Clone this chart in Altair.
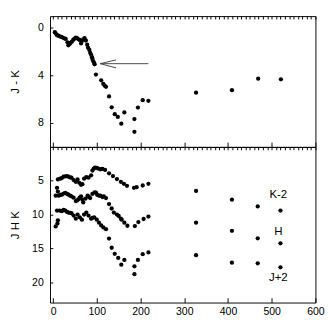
import altair as alt
import pandas as pd

# ---- data ----
jk_x = [4, 6, 9, 12, 15, 19, 22, 26, 29, 33, 35, 38, 40, 43, 46, 49, 52, 55, 58, 61,
        64, 66, 69, 72, 75, 78, 80, 83, 85, 87, 89, 90, 92, 94, 95, 98, 110, 115, 118, 121,
        128, 134, 141, 148, 156, 163, 186, 186, 194, 205, 218, 327, 409, 469, 521]
jk_y = [0.35, 0.45, 0.6, 0.65, 0.7, 0.75, 0.8, 0.88, 0.92, 1.2, 1.45, 1.35, 1.25, 1.15, 1.0, 0.9, 0.8, 0.85, 0.95, 1.0,
        1.3, 1.1, 0.95, 0.85, 1.05, 1.4, 1.65, 1.85, 2.1, 2.25, 2.45, 2.6, 2.8, 2.95, 3.05, 3.92, 4.4, 4.7, 4.85, 4.95,
        5.75, 6.67, 7.25, 7.48, 8.05, 7.1, 7.66, 8.73, 6.69, 6.07, 6.12, 5.44, 5.23, 4.26, 4.31]

k_x = [11, 16, 20, 24, 28, 32, 35, 39, 42, 47, 52, 56, 60, 64, 67, 71, 76, 81, 87, 90,
       93, 96, 100, 103, 108, 113, 119, 128, 137, 146, 155, 162, 169, 185, 191, 205, 218, 327, 409, 468, 520]
k_y = [4.8, 4.7, 4.6, 4.4, 4.35, 4.3, 4.4, 4.5, 4.55, 4.9, 5.15, 4.8, 5.3, 5.6, 5.5, 4.7, 4.45, 4.55, 4.2, 3.5,
       3.2, 3.05, 3.1, 3.2, 3.3, 3.25, 3.4, 3.9, 4.3, 4.75, 5.15, 5.45, 5.75, 6.05, 5.95, 5.7, 5.45, 6.5, 7.8, 8.8, 9.4]

h_x = [6, 9, 11, 13, 17, 20, 24, 28, 32, 35, 39, 42, 47, 52, 55, 58, 61, 64, 67, 69,
       74, 79, 82, 85, 90, 95, 98, 101, 105, 108, 113, 116, 121, 128, 134, 139, 146, 150, 155, 157,
       163, 170, 187, 195, 207, 218, 327, 409, 468, 520]
h_y = [7.2, 6.05, 6.6, 7.2, 7.1, 7.05, 6.9, 6.8, 6.95, 7.05, 7.2, 7.3, 7.5, 8.0, 7.9, 7.75, 7.5, 7.3, 7.8, 8.2,
       7.65, 7.2, 7.4, 7.55, 6.95, 6.7, 6.75, 7.1, 7.2, 7.2, 7.4, 7.3, 7.55, 8.45, 9.1, 9.7, 10.0, 10.2, 10.6, 10.75,
       11.2, 11.65, 11.7, 11.1, 10.65, 10.3, 11.2, 12.4, 13.5, 14.25]

j_x = [6, 9, 10, 11, 15, 20, 24, 28, 32, 35, 39, 42, 47, 52, 56, 61, 66, 71, 76, 81,
       87, 90, 94, 100, 105, 110, 115, 121, 128, 134, 141, 149, 156, 163, 186, 186, 194, 205, 218,
       327, 409, 468, 520]
j_y = [11.75, 9.4, 11.3, 10.85, 9.4, 9.5, 9.3, 9.4, 9.6, 9.7, 9.75, 9.8, 10.15, 10.6, 10.0, 10.4, 10.75, 10.0, 9.7, 10.15,
       10.6, 10.5, 10.4, 10.75, 11.2, 11.6, 11.9, 12.15, 13.55, 14.9, 15.8, 16.4, 17.4, 16.7, 17.65, 18.8, 16.7, 15.85, 15.6,
       16.0, 17.1, 17.2, 17.8]

series_labels = ["K-2", "H", "J+2"]
label_x = [515, 515, 515]
label_y = [7.0, 12.4, 19.3]

# arrow annotation (shaft + two head strokes)
arrow_x = [108, 108, 108]
arrow_x2 = [218, 144, 144]
arrow_y = [3.0, 3.0, 3.0]
arrow_y2 = [3.0, 2.68, 3.35]

x_major = [0, 100, 200, 300, 400, 500, 600]
x_minor = list(range(0, 601, 10))
top_y_ticks = [0, 2, 4, 6, 8]
bot_y_ticks = [5, 10, 15, 20]

# ---- frames ----
df_jk = pd.DataFrame({"x": jk_x, "y": jk_y})
df_bot = pd.concat([
    pd.DataFrame({"x": k_x, "y": k_y, "s": "K-2"}),
    pd.DataFrame({"x": h_x, "y": h_y, "s": "H"}),
    pd.DataFrame({"x": j_x, "y": j_y, "s": "J+2"}),
])
df_lab = pd.DataFrame({"x": label_x, "y": label_y, "t": series_labels})
df_arrow = pd.DataFrame({"x": arrow_x, "x2": arrow_x2, "y": arrow_y, "y2": arrow_y2})

FONT = "Liberation Sans"
W, H1, H2 = 278, 137, 163

xscale = alt.Scale(domain=[-7, 600], nice=False, zero=False)


def x_major_axis(show_labels):
    kw = dict(values=x_major, tickSize=5, offset=-5, domain=False, grid=False, title=None,
              tickColor="black", tickWidth=1)
    if show_labels:
        kw.update(labelPadding=4, labelFontSize=11, labelColor="black", labelFont=FONT,
                  labelOverlap=False, labelFlush=False)
    else:
        kw.update(labels=False)
    return alt.Axis(**kw)


def x_minor_axis():
    return alt.Axis(values=x_minor, tickSize=3, offset=-3, labels=False, domain=False, grid=False,
                    title=None, tickColor="black", tickWidth=1)


def y_axis(title, values, h):
    return alt.Axis(title=title, values=values, tickSize=3, offset=-3, domain=False, grid=False,
                    tickColor="black", labelPadding=7, labelFontSize=11, labelColor="black",
                    labelFont=FONT, titleFont=FONT, titleFontSize=12, titleFontWeight="normal",
                    titleColor="black", titleX=-33, titleY=h / 2, titleAngle=270,
                    titleBaseline="bottom", titleAlign="center")


top_y = alt.Scale(domain=[-1, 10], reverse=True, nice=False, zero=False)
bot_y = alt.Scale(domain=[0, 23], reverse=True, nice=False, zero=False)

pts_top = alt.Chart(df_jk).mark_circle(size=20, color="black", opacity=1).encode(
    x=alt.X("x:Q", scale=xscale, axis=x_major_axis(False)),
    y=alt.Y("y:Q", scale=top_y, axis=y_axis("J - K", top_y_ticks, H1)),
)
arrow = alt.Chart(df_arrow).mark_rule(color="#444444", strokeWidth=1).encode(
    x=alt.X("x:Q", scale=xscale, axis=x_minor_axis()),
    x2="x2:Q", y="y:Q", y2="y2:Q"
)
top = alt.layer(pts_top, arrow).resolve_axis(x="independent").properties(width=W, height=H1)

pts_bot = alt.Chart(df_bot).mark_circle(size=20, color="black", opacity=1).encode(
    x=alt.X("x:Q", scale=xscale, axis=x_major_axis(True)),
    y=alt.Y("y:Q", scale=bot_y, axis=y_axis("J H K", bot_y_ticks, H2)),
    detail="s:N",
)
labs = alt.Chart(df_lab).mark_text(font=FONT, fontSize=12, color="black", align="center",
                                    baseline="middle").encode(
    x=alt.X("x:Q", scale=xscale, axis=x_minor_axis()),
    y="y:Q", text="t:N"
)
bottom = alt.layer(pts_bot, labs).resolve_axis(x="independent").properties(width=W, height=H2)

chart = alt.vconcat(top, bottom, spacing=0, bounds="flush").configure_view(
    stroke="black", strokeWidth=1
).properties(padding=0)

chart.save("out.html", embed_options={"renderer": "svg", "actions": False})
